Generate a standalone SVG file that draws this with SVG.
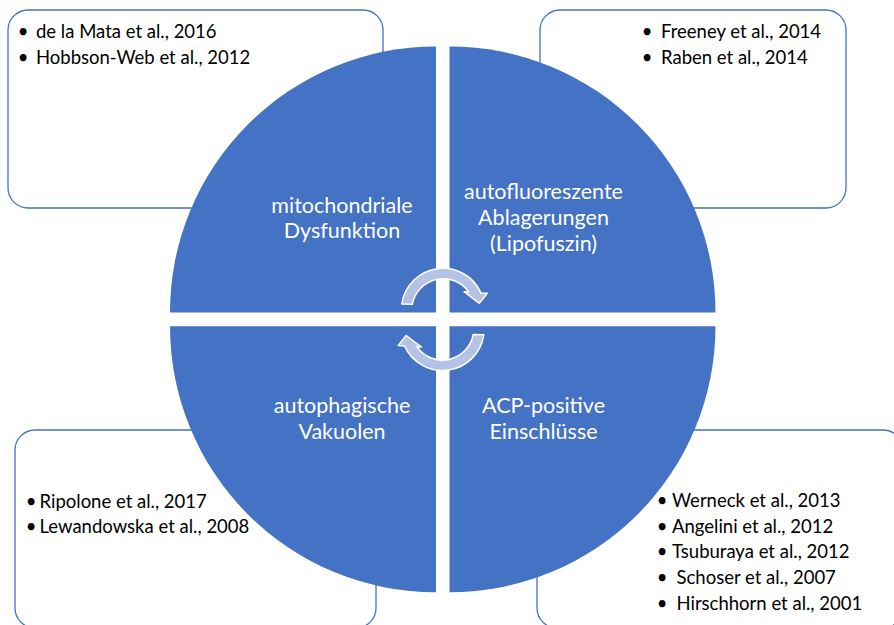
<svg xmlns="http://www.w3.org/2000/svg" width="894" height="625" viewBox="0 0 894 625">
<style>
.box{fill:#fff;stroke:#4472C4;stroke-width:1.3}
.quad{fill:#4472C4}
.ref{font-family:Lato,"Liberation Sans",sans-serif;font-size:18.5px;fill:#000}
.bul{font-family:Lato,"Liberation Sans",sans-serif;font-size:18.5px;fill:#000;text-anchor:middle}
.lbl{font-family:Lato,"Liberation Sans",sans-serif;font-size:21.5px;fill:#fff;text-anchor:middle}
.arr{fill:#B4C2E5;stroke:#fff;stroke-width:1.5;stroke-linejoin:round}
</style>
<rect width="894" height="625" fill="#fff"/>
<g id="refs-tl">
<rect class="box" x="8" y="10" width="375" height="198" rx="20"/>
<text class="bul" x="23" y="38">•</text><text class="ref" x="36" y="38">de la Mata et al., 2016</text>
<text class="bul" x="23" y="63.5">•</text><text class="ref" x="36" y="63.5">Hobbson-Web et al., 2012</text>
</g>
<g id="refs-tr">
<rect class="box" x="540" y="10" width="306" height="198" rx="20"/>
<text class="bul" x="647" y="38">•</text><text class="ref" x="661" y="38">Freeney et al., 2014</text>
<text class="bul" x="647" y="63.5">•</text><text class="ref" x="661" y="63.5">Raben et al., 2014</text>
</g>
<g id="refs-bl">
<rect class="box" x="15" y="430" width="361" height="198" rx="20"/>
<text class="bul" x="31" y="507.5">•</text><text class="ref" x="39.5" y="507.5">Ripolone et al., 2017</text>
<text class="bul" x="31" y="533">•</text><text class="ref" x="39.5" y="533">Lewandowska et al., 2008</text>
</g>
<g id="refs-br">
<rect class="box" x="537" y="430" width="366" height="198" rx="20"/>
<text class="bul" x="662" y="507">•</text><text class="ref" x="672" y="507">Werneck et al., 2013</text>
<text class="bul" x="662" y="532.5">•</text><text class="ref" x="672" y="532.5">Angelini et al., 2012</text>
<text class="bul" x="662" y="558">•</text><text class="ref" x="672" y="558">Tsuburaya et al., 2012</text>
<text class="bul" x="662" y="584">•</text><text class="ref" x="676.5" y="584">Schoser et al., 2007</text>
<text class="bul" x="662" y="609.5">•</text><text class="ref" x="676.5" y="609.5">Hirschhorn et al., 2001</text>
</g>
<g id="q-mito">
<path class="quad" d="M436,312.5 L170,312.5 A266,266 0 0 1 436,46.5 Z"/>
<text class="lbl" x="342" y="212.7">mitochondriale</text>
<text class="lbl" x="342" y="237.5">Dysfunktion</text>
</g>
<g id="q-auto">
<path class="quad" d="M449.5,312.5 L449.5,46.5 A266,266 0 0 1 715.5,312.5 Z"/>
<text class="lbl" x="543.5" y="199.3">autofluoreszente</text>
<text class="lbl" x="543.5" y="225">Ablagerungen</text>
<text class="lbl" x="543.5" y="250.5">(Lipofuszin)</text>
</g>
<g id="q-acp">
<path class="quad" d="M449.5,326.3 L715.5,326.3 A266,266 0 0 1 449.5,592.3 Z"/>
<text class="lbl" x="543.5" y="413.3">ACP-positive</text>
<text class="lbl" x="543.5" y="438.5">Einschlüsse</text>
</g>
<g id="q-vak">
<path class="quad" d="M436,326.3 L436,592.3 A266,266 0 0 1 170,326.3 Z"/>
<text class="lbl" x="342" y="413.3">autophagische</text>
<text class="lbl" x="342" y="439.3">Vakuolen</text>
</g>
<g id="connectors">
<path id="arrow-top" class="arr" d="M401.7,304 A41.7,41.7 0 0 1 481,292.9 L487.3,293.3 L479.3,303.3 L464,291.7 L468.7,292 A31.3,31.3 0 0 0 412.3,304.3 Z"/>
<path id="arrow-bottom" class="arr" transform="rotate(180 442.75 319.4)" d="M401.7,304 A41.7,41.7 0 0 1 481,292.9 L487.3,293.3 L479.3,303.3 L464,291.7 L468.7,292 A31.3,31.3 0 0 0 412.3,304.3 Z"/>
</g>
</svg>
